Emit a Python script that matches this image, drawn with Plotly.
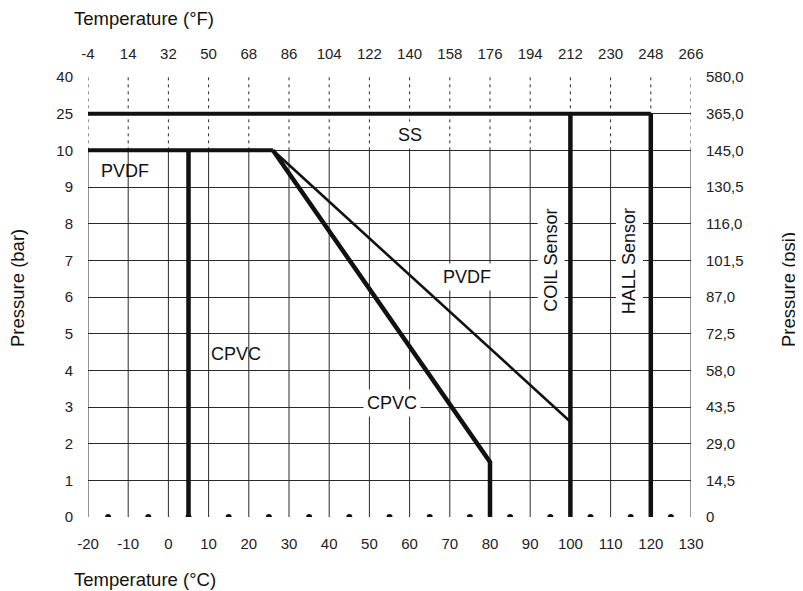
import numpy as np
import plotly.graph_objects as go

# ---------------- data ----------------
# pressure scale (bar) tick labels and psi equivalents
bar_ticks = [0, 1, 2, 3, 4, 5, 6, 7, 8, 9, 10, 25, 40]
psi_labels = ["0", "14,5", "29,0", "43,5", "58,0", "72,5", "87,0", "101,5",
              "116,0", "130,5", "145,0", "365,0", "580,0"]
c_ticks = list(range(-20, 131, 10))
f_ticks = [-4, 14, 32, 50, 68, 86, 104, 122, 140, 158, 176, 194, 212, 230, 248, 266]

# curves (temperature °C, pressure bar)
ss_temp = [-20, 120]
ss_bar = [25, 25]
coil_temp = [100, 100]
coil_bar = [0, 25]
hall_temp = [120, 120]
hall_bar = [0, 25]
pvdf_flat_temp = [-20, 26]
pvdf_flat_bar = [10, 10]
pvdf_temp = [26, 100]
pvdf_bar = [10, 2.6]
cpvc_low_temp = [5, 5]
cpvc_low_bar = [0, 10]
cpvc_temp = [26, 80, 80]
cpvc_bar = [10, 1.5, 0]
dot_temps = list(range(-15, 126, 10))

# label positions (text, °C, bar, rotated, white box)
labels = [
    ("PVDF", -10.8, 9.45, False, False),
    ("SS", 60.2, 17.0, False, True),
    ("PVDF", 74.3, 6.55, False, True),
    ("CPVC", 16.8, 4.45, False, False),
    ("CPVC", 55.5, 3.1, False, True),
    ("COIL Sensor", 95.3, 7.0, True, True),
    ("HALL Sensor", 114.8, 6.97, True, True),
]


def pos(b):
    """bar value -> position on the (non-linear, evenly spaced tick) pressure axis"""
    return np.interp(b, bar_ticks, np.arange(len(bar_ticks)))


INK = "#111111"
GRID = "#2a2a2a"
FONT = "Liberation Sans, Arial, sans-serif"

fig = go.Figure()

# vertical grid: solid between 0 and 10 bar, dotted above
sx, sy, dx, dy = [], [], [], []
for t in c_ticks:
    sx += [t, t, None]
    sy += [pos(0), pos(10), None]
    dx += [t, t, None]
    dy += [pos(10), pos(40), None]
fig.add_trace(go.Scatter(x=sx, y=sy, mode="lines", line=dict(color=GRID, width=1),
                         hoverinfo="skip", showlegend=False))
fig.add_trace(go.Scatter(x=dx, y=dy, mode="lines",
                         line=dict(color=GRID, width=1, dash="3px,4px"),
                         hoverinfo="skip", showlegend=False))

# dots on the 0 line
fig.add_trace(go.Scatter(x=dot_temps, y=pos(np.zeros(len(dot_temps))), mode="markers",
                         marker=dict(color=INK, size=6), showlegend=False))


def line(x, y, w):
    fig.add_trace(go.Scatter(x=x, y=pos(np.array(y, dtype=float)), mode="lines",
                             line=dict(color=INK, width=w), showlegend=False))


line(ss_temp, ss_bar, 4)
line(coil_temp, coil_bar, 4.5)
line(hall_temp, hall_bar, 4.5)
line(pvdf_flat_temp, pvdf_flat_bar, 4)
line(pvdf_temp, pvdf_bar, 2.6)
line(cpvc_low_temp, cpvc_low_bar, 4.5)
line(cpvc_temp, cpvc_bar, 4.5)

# invisible traces to activate top x and right y axes
fig.add_trace(go.Scatter(x=[f_ticks[0]], y=[0], xaxis="x2", yaxis="y", mode="markers",
                         marker=dict(opacity=0), showlegend=False, hoverinfo="skip"))
fig.add_trace(go.Scatter(x=[-20], y=[0], xaxis="x", yaxis="y2", mode="markers",
                         marker=dict(opacity=0), showlegend=False, hoverinfo="skip"))

annotations = []
for text, x, yv, rot, bg in labels:
    yy = pos(yv) if yv <= 10 else 10.42
    annotations.append(dict(
        x=x, y=float(yy), xref="x", yref="y", text=text, showarrow=False,
        textangle=-90 if rot else 0,
        font=dict(family=FONT, size=18, color=INK),
        bgcolor="white" if bg else "rgba(0,0,0,0)", borderpad=3,
    ))

# page offset of the plot div (browser body margin)
OFF = 8
W, H = 803 - OFF, 591 - OFF
L, R, T, B = 88 - OFF, 691 - OFF, 77 - OFF, 517 - OFF


def px(xp):
    return (xp - OFF - L) / (R - L)


def py(yp):
    return (B - (yp - OFF)) / (B - T)


title_font = dict(family=FONT, size=18.5, color=INK)
annotations += [
    dict(x=px(72), y=py(18), xref="paper", yref="paper", text="Temperature (°F)",
         xanchor="left", yanchor="middle", showarrow=False, font=title_font),
    dict(x=px(72), y=py(579), xref="paper", yref="paper", text="Temperature (°C)",
         xanchor="left", yanchor="middle", showarrow=False, font=title_font),
    dict(x=px(17), y=py(288), xref="paper", yref="paper", text="Pressure (bar)",
         textangle=-90, xanchor="center", yanchor="middle", showarrow=False, font=title_font),
    dict(x=px(788), y=py(290), xref="paper", yref="paper", text="Pressure (psi)",
         textangle=-90, xanchor="center", yanchor="middle", showarrow=False, font=title_font),
]

tick_font = dict(family=FONT, size=15, color="#222222")

fig.update_layout(
    width=W, height=H,
    margin=dict(l=L, r=W - R, t=T, b=H - B, pad=0),
    plot_bgcolor="white", paper_bgcolor="white",
    showlegend=False,
    annotations=annotations,
    xaxis=dict(range=[-20, 130], tickvals=c_ticks, ticktext=[str(c) for c in c_ticks],
               showgrid=False, zeroline=False,
               showline=False, ticks="", tickfont=tick_font, ticklabelstandoff=16),
    xaxis2=dict(range=[-4, 266], tickvals=f_ticks, ticktext=[str(f) for f in f_ticks],
                overlaying="x", side="top",
                showgrid=False, zeroline=False, showline=False, ticks="",
                tickfont=tick_font, ticklabelstandoff=14),
    yaxis=dict(range=[0, 12], tickvals=list(range(len(bar_ticks))),
               ticktext=[str(b) for b in bar_ticks], showgrid=True, gridcolor=GRID,
               gridwidth=1, zeroline=False, showline=False, ticks="",
               tickfont=tick_font, ticklabelstandoff=14),
    yaxis2=dict(range=[0, 12], tickvals=list(range(len(bar_ticks))), ticktext=psi_labels,
                overlaying="y", side="right", showgrid=False, zeroline=False,
                showline=False, ticks="", tickfont=tick_font, ticklabelstandoff=14),
)

fig.write_html("out.html")
